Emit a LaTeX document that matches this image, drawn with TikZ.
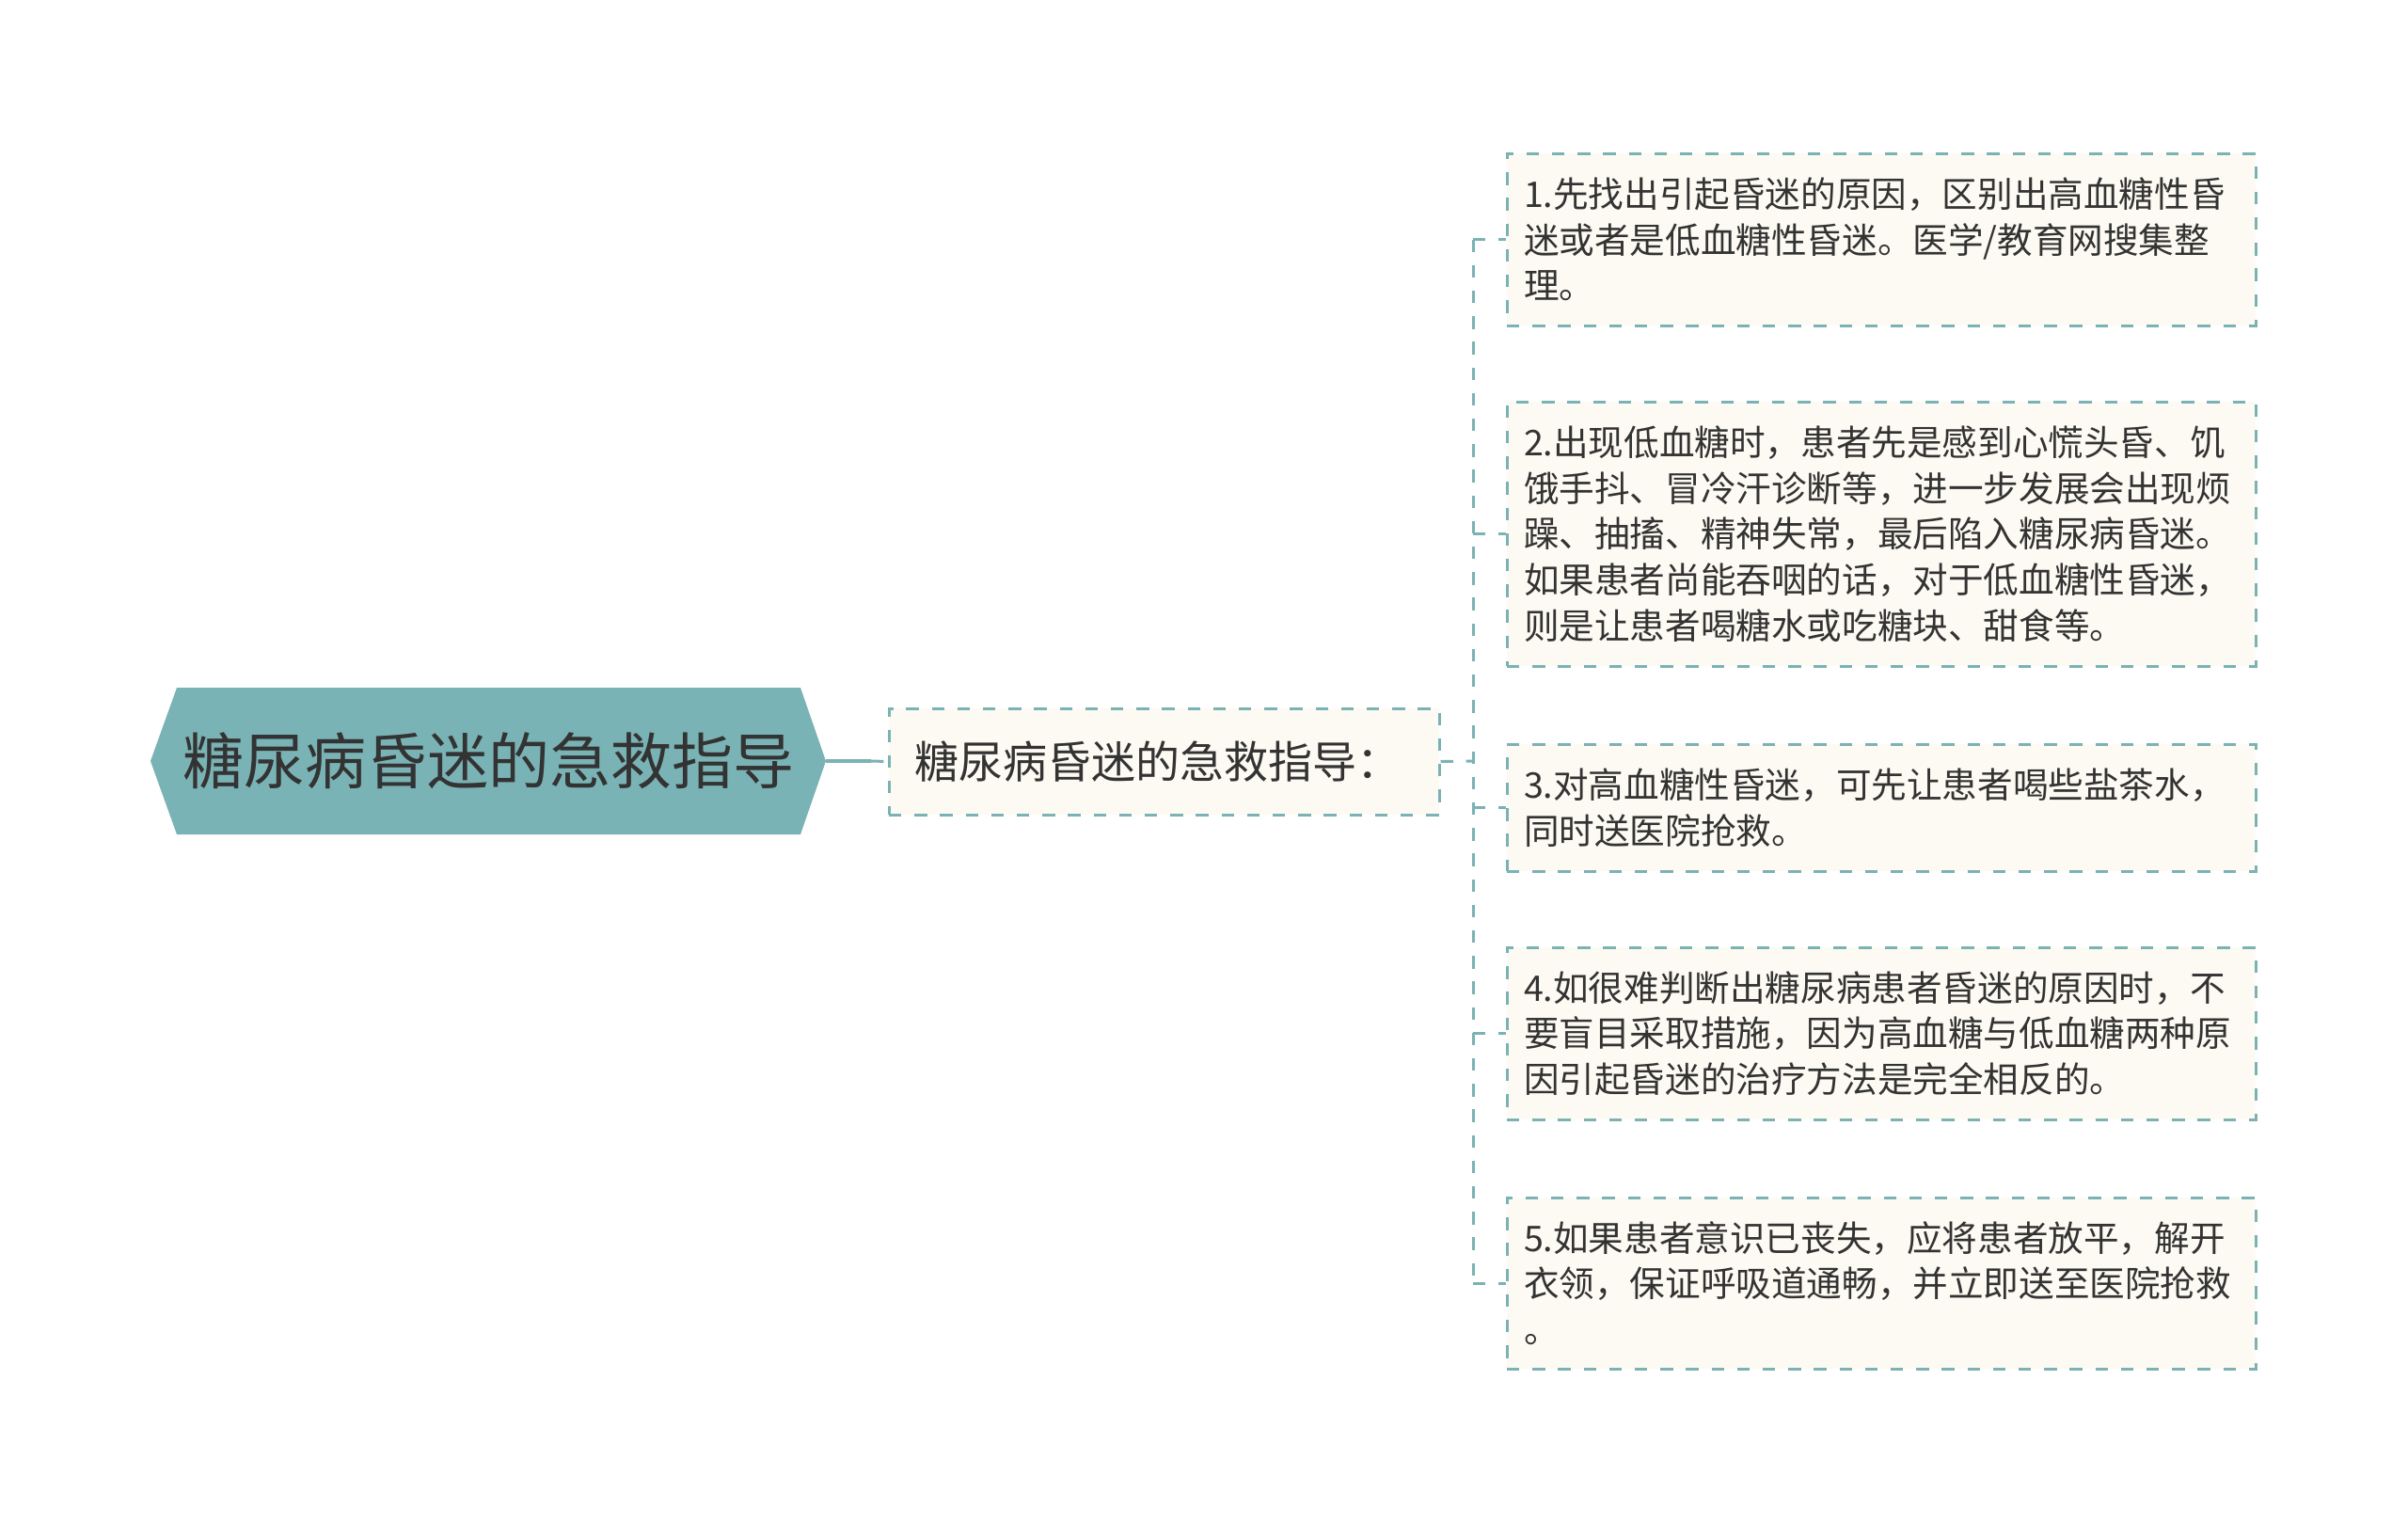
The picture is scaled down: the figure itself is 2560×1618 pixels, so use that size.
\documentclass[tikz,border=0pt]{standalone}
\usepackage{fontspec}
\setmainfont{Noto Sans CJK SC}
\definecolor{lineteal}{HTML}{7BB2B4}
\definecolor{rootfill}{HTML}{7AB3B5}
\definecolor{boxfill}{HTML}{FCFAF2}
\definecolor{txtcol}{HTML}{333333}
\tikzset{
  leaf/.style={rectangle, draw=lineteal, line width=1.5pt, dash pattern=on 6.7pt off 6.9pt,
    fill=boxfill, minimum width=398pt, text width=380pt, inner xsep=9pt, inner ysep=0pt,
    align=left, text=txtcol, font=\fontsize{18.8pt}{24.35pt}\selectfont},
  midbox/.style={rectangle, draw=lineteal, line width=1.5pt, dash pattern=on 6.7pt off 6.9pt,
    fill=boxfill, minimum width=292.5pt, text width=265.5pt, inner xsep=13.5pt, inner ysep=0pt,
    minimum height=56.5pt, align=left, text=txtcol, font=\fontsize{23.5pt}{28pt}\selectfont},
  link/.style={draw=lineteal, line width=1.5pt, dash pattern=on 6.7pt off 6.9pt},
  rootlink/.style={draw=lineteal, line width=1.7pt},
  roottext/.style={text=txtcol, font=\fontsize{32.5pt}{38pt}\selectfont, inner sep=0pt}
}
\begin{document}
\begin{tikzpicture}[x=0.5pt,y=-0.5pt]
\useasboundingbox (0,0) rectangle (2560,1618);
\fill[white] (0,0) rectangle (2560,1618);
% root hexagon
\fill[rootfill] (160,809) -- (188,731) -- (851,731) -- (878,809) -- (851,887) -- (188,887) -- cycle;
\node[roottext] (root) at (519,809) {糖尿病昏迷的急救指导};
\coordinate (roottip) at (878,809);
\coordinate (j1) at (926,809);
% middle node
\node[midbox] (mid) at (1237.5,809.5) {糖尿病昏迷的急救指导：};
% leaves
\node[leaf, minimum height=91.5pt] (b1) at (2000,254.5) {1.先找出引起昏迷的原因，区别出高血糖性昏\\迷或者是低血糖性昏迷。医学/教育网搜集整\\理。};
\node[leaf, minimum height=140.5pt] (b2) at (2000,567.5) {2.出现低血糖时，患者先是感到心慌头昏、饥\\饿手抖、冒冷汗诊断等，进一步发展会出现烦\\躁、抽搐、精神失常，最后陷入糖尿病昏迷。\\如果患者尚能吞咽的话，对于低血糖性昏迷，\\则是让患者喝糖水或吃糖块、甜食等。};
\node[leaf, minimum height=67.5pt] (b3) at (2000,858.5) {3.对高血糖性昏迷，可先让患者喝些盐茶水，\\同时送医院抢救。};
\node[leaf, minimum height=91.5pt] (b4) at (2000,1098.5) {4.如很难判断出糖尿病患者昏迷的原因时，不\\要盲目采取措施，因为高血糖与低血糖两种原\\因引起昏迷的治疗方法是完全相反的。};
\node[leaf, minimum height=91pt] (b5) at (2000,1364) {5.如果患者意识已丧失，应将患者放平，解开\\衣领，保证呼吸道通畅，并立即送至医院抢救\\。};
% connectors
\draw[rootlink] (roottip) -- (j1);
\draw[link] (j1) -- (mid.west);
\coordinate (tk) at (1566,809);
\draw[link] (mid.east) -- (tk);
\draw[link] (tk |- b1.west) -- (tk |- b5.west);
\foreach \b in {b1,b2,b3,b4,b5} {
  \draw[link] (tk |- \b.west) -- (\b.west);
}
\end{tikzpicture}
\end{document}
